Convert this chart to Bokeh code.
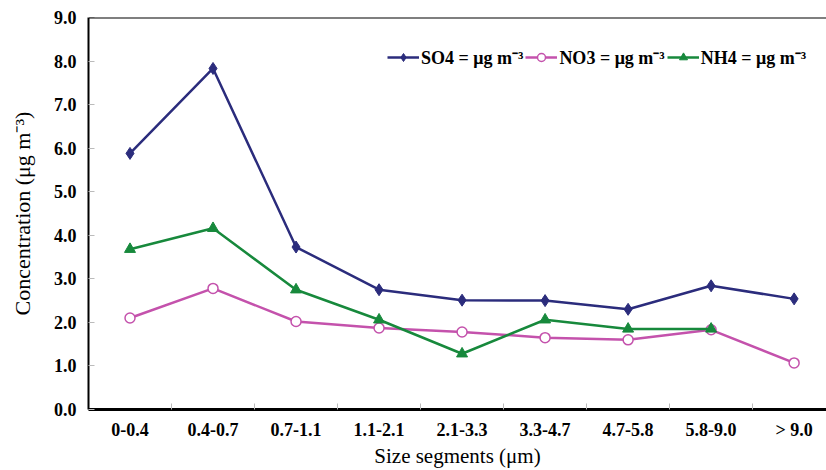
from bokeh.plotting import figure
from bokeh.models import FixedTicker, Legend, LegendItem, Span
from bokeh.embed import file_html
from bokeh.resources import INLINE

categories = ["0-0.4", "0.4-0.7", "0.7-1.1", "1.1-2.1", "2.1-3.3", "3.3-4.7", "4.7-5.8", "5.8-9.0", "> 9.0"]
so4 = [5.88, 7.83, 3.73, 2.75, 2.51, 2.50, 2.30, 2.84, 2.54]
no3 = [2.10, 2.78, 2.02, 1.87, 1.78, 1.65, 1.60, 1.83, 1.07]
nh4 = [3.68, 4.16, 2.75, 2.06, 1.28, 2.06, 1.85, 1.85, float("nan")]
y_ticks = [0, 1, 2, 3, 4, 5, 6, 7, 8, 9]

xs = [i + 0.5 for i in range(len(categories))]

p = figure(width=826, height=470, output_backend="svg", toolbar_location=None,
           x_range=(0, 8.89), y_range=(0, 9),
           min_border_left=88, min_border_right=0, min_border_top=17, min_border_bottom=52)
p.outline_line_color = None
p.grid.visible = False
p.background_fill_color = "white"

FONT = "Liberation Serif"

# x axis
p.xaxis.ticker = FixedTicker(ticks=xs, minor_ticks=list(range(1, 9)))
p.xaxis.major_label_overrides = {x: c for x, c in zip(xs, categories)}
p.xaxis.major_tick_line_color = None
p.xaxis.minor_tick_line_color = "#bbbbbb"
p.xaxis.minor_tick_in = 6
p.xaxis.minor_tick_out = 0
p.xaxis.axis_line_color = "black"
p.xaxis.axis_line_width = 3
p.xaxis.major_label_text_font = FONT
p.xaxis.major_label_text_font_style = "bold"
p.xaxis.major_label_text_font_size = "18px"
p.xaxis.major_label_text_color = "black"
p.xaxis.major_label_standoff = 4
p.xaxis.axis_label = "Size segments (\u03bcm)"
p.xaxis.axis_label_text_font = FONT
p.xaxis.axis_label_text_font_style = "normal"
p.xaxis.axis_label_text_font_size = "21px"
p.xaxis.axis_label_text_color = "black"
p.xaxis.axis_label_standoff = 1

# y axis
p.yaxis.ticker = FixedTicker(ticks=y_ticks)
p.yaxis.major_label_overrides = {t: f"{t:.1f}" for t in y_ticks}
p.yaxis.major_tick_line_color = "#bbbbbb"
p.yaxis.major_tick_in = 6
p.yaxis.major_tick_out = 0
p.yaxis.minor_tick_line_color = None
p.yaxis.axis_line_color = "black"
p.yaxis.axis_line_width = 2
p.yaxis.major_label_text_font = FONT
p.yaxis.major_label_text_font_style = "bold"
p.yaxis.major_label_text_font_size = "18px"
p.yaxis.major_label_text_color = "black"
p.yaxis.major_label_standoff = 12
p.yaxis.axis_label = "Concentration (\u03bcg m\u207b\u00b3)"
p.yaxis.axis_label_text_font = FONT
p.yaxis.axis_label_text_font_style = "normal"
p.yaxis.axis_label_text_font_size = "22px"
p.yaxis.axis_label_text_color = "black"
p.yaxis.axis_label_standoff = 16

p.add_layout(Span(location=9, dimension="width", line_color="black", line_width=2))

c_so4 = "#2B2C7C"
c_no3 = "#C452AC"
c_nh4 = "#17893C"

l1 = p.line(xs, so4, line_color=c_so4, line_width=2.5)
m1 = p.scatter(xs, so4, marker="diamond", size=12, fill_color=c_so4, line_color=c_so4)
l2 = p.line(xs, no3, line_color=c_no3, line_width=2.5)
m2 = p.scatter(xs, no3, marker="circle", size=10, fill_color="white", line_color=c_no3, line_width=1.5)
l3 = p.line(xs, nh4, line_color=c_nh4, line_width=2.5)
m3 = p.scatter(xs, nh4, marker="triangle", size=11, fill_color=c_nh4, line_color=c_nh4)

legend = Legend(items=[
    LegendItem(label="SO4 = \u03bcg m\u207b\u00b3", renderers=[l1, m1]),
    LegendItem(label="NO3 = \u03bcg m\u207b\u00b3", renderers=[l2, m2]),
    LegendItem(label="NH4 = \u03bcg m\u207b\u00b3", renderers=[l3, m3]),
], orientation="horizontal", location=(299, 340))
legend.border_line_color = None
legend.background_fill_alpha = 0
legend.label_text_font = FONT
legend.label_text_font_style = "bold"
legend.label_text_font_size = "18px"
legend.label_text_color = "black"
legend.glyph_width = 32
legend.label_standoff = 2
legend.spacing = 2
legend.padding = 0
legend.margin = 0
p.add_layout(legend)

open("out.html", "w").write(file_html(p, INLINE))
